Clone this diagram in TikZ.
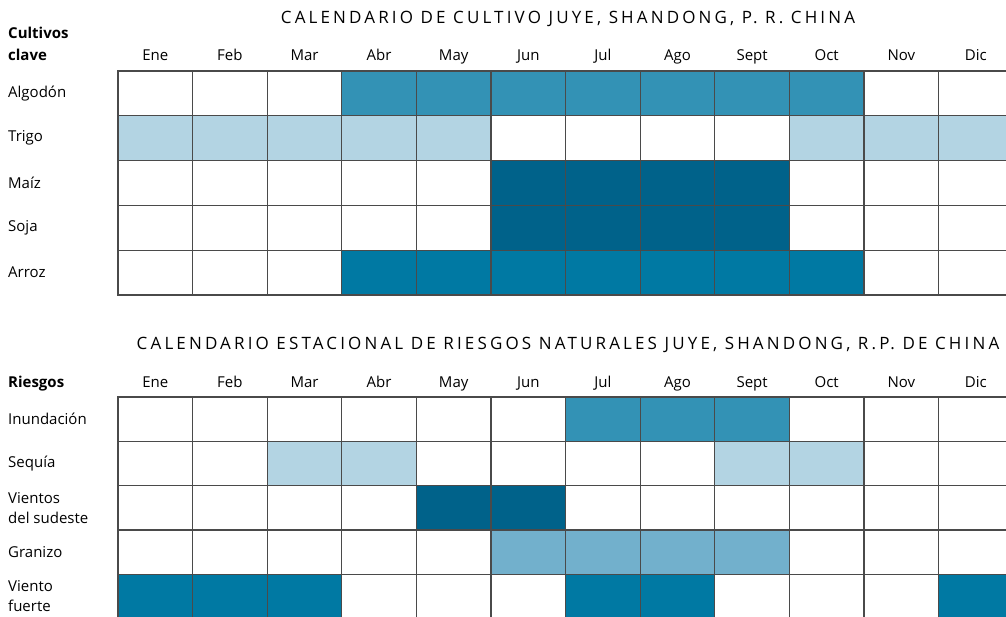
\documentclass[tikz,border=0pt]{standalone}
\usepackage{fontspec}
\setmainfont{Open Sans}
\usetikzlibrary{positioning}

\definecolor{gridgray}{HTML}{4A4A4A}
\definecolor{cw}{HTML}{FFFFFF}
\definecolor{cl}{HTML}{B3D4E3}
\definecolor{cm}{HTML}{3392B5}
\definecolor{cd}{HTML}{00628A}
\definecolor{ca}{HTML}{0079A3}
\definecolor{cg}{HTML}{72B0CC}

\tikzstyle{cell} = [minimum width=74.6pt, inner sep=0pt, outer sep=0pt, anchor=north west]
\tikzstyle{gridline} = [draw=gridgray, line width=1.3pt]
\tikzstyle{month} = [anchor=base, inner sep=0pt, font=\fontsize{15}{18}\selectfont]
\tikzstyle{rowlabel} = [anchor=west, align=left, inner sep=0pt, font=\fontsize{15}{20}\selectfont]
\tikzstyle{head} = [anchor=base west, align=left, inner sep=0pt, font=\fontsize{15}{22}\selectfont\bfseries]
\tikzstyle{title} = [anchor=base, inner sep=0pt, font=\fontsize{17}{18}\selectfont\addfontfeature{LetterSpace=18.5}]

\begin{document}
\begin{tikzpicture}[x=1pt, y=-1pt]
	\useasboundingbox (0,0) rectangle (1006,617);
	\clip (0,0) rectangle (1006,617);

	% cultivos
	\node [title] (titlea) at (568,24) {CALENDARIO DE CULTIVO JUYE, SHANDONG, P. R. CHINA};
	\node [head] (heada) at (8,39) {Cultivos};
	\node [head] (heada2) at (8,61) {clave};
	\foreach \m [count=\c] in {Ene,Feb,Mar,Abr,May,Jun,Jul,Ago,Sept,Oct,Nov,Dic}
		\node [month] (ma\c) at (118+\c*74.6-37.3,61) {\m};

	\foreach \lab/\cols [count=\r] in {
		Algodón/{cw,cw,cw,cm,cm,cm,cm,cm,cm,cm,cw,cw},
		Trigo/{cl,cl,cl,cl,cl,cw,cw,cw,cw,cl,cl,cl},
		Maíz/{cw,cw,cw,cw,cw,cd,cd,cd,cd,cw,cw,cw},
		Soja/{cw,cw,cw,cw,cw,cd,cd,cd,cd,cw,cw,cw},
		Arroz/{cw,cw,cw,ca,ca,ca,ca,ca,ca,ca,cw,cw}} {
		\node [rowlabel] (la\r) at (8,71+\r*44.8-22.4) {\lab};
		\foreach \col [count=\c] in \cols
			\node [cell, minimum height=44.8pt, fill=\col] (a-\r-\c) at (118+\c*74.6-74.6,71+\r*44.8-44.8) {};
	}
	\foreach \r in {1,...,5}
		\foreach \c in {1,...,12}
			\draw [gridline] (a-\r-\c.north west) rectangle (a-\r-\c.south east);

	% riesgos
	\node [title] (titleb) at (568,349) {CALENDARIO ESTACIONAL DE RIESGOS NATURALES JUYE, SHANDONG, R.P. DE CHINA};
	\node [head] (headb) at (8,387) {Riesgos};
	\foreach \m [count=\c] in {Ene,Feb,Mar,Abr,May,Jun,Jul,Ago,Sept,Oct,Nov,Dic}
		\node [month] (mb\c) at (118+\c*74.6-37.3,387) {\m};

	\foreach \lab/\cols [count=\r] in {
		Inundación/{cw,cw,cw,cw,cw,cw,cm,cm,cm,cw,cw,cw},
		Sequía/{cw,cw,cl,cl,cw,cw,cw,cw,cl,cl,cw,cw},
		Vientos\\del sudeste/{cw,cw,cw,cw,cd,cd,cw,cw,cw,cw,cw,cw},
		Granizo/{cw,cw,cw,cw,cw,cg,cg,cg,cg,cw,cw,cw},
		Viento\\fuerte/{ca,ca,ca,cw,cw,cw,ca,ca,cw,cw,cw,ca}} {
		\node [rowlabel] (lb\r) at (8,397+\r*44.3-22.15) {\lab};
		\foreach \col [count=\c] in \cols
			\node [cell, minimum height=44.3pt, fill=\col] (b-\r-\c) at (118+\c*74.6-74.6,397+\r*44.3-44.3) {};
	}
	\foreach \r in {1,...,5}
		\foreach \c in {1,...,12}
			\draw [gridline] (b-\r-\c.north west) rectangle (b-\r-\c.south east);
\end{tikzpicture}
\end{document}
